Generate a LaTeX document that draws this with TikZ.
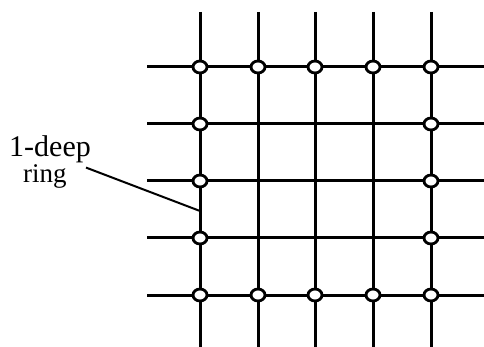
\documentclass[tikz,border=0pt]{standalone}
\usepackage{fontspec}
\setmainfont{Liberation Serif}
\usetikzlibrary{positioning,shapes.geometric,calc}

\begin{document}
\begin{tikzpicture}[
    x=1pt, y=-1pt,
    wire/.style={line width=3pt},
    ringnode/.style={ellipse, draw, fill=white, line width=2.8pt,
                minimum width=14pt, minimum height=12pt, inner sep=0pt},
    lbl/.style={inner sep=0pt, anchor=base west},
    lead/.style={line width=2pt}]
    \useasboundingbox (0,0) rectangle (484,347);
    % grid wires
    \foreach \x [count=\i] in {200,258,315,373,431} {
        \coordinate (t\i) at (\x,12); \coordinate (b\i) at (\x,347);
        \draw[wire] (t\i) -- (b\i);
    }
    \foreach \y [count=\j] in {67,124,181,238,295} {
        \coordinate (l\j) at (147,\y); \coordinate (r\j) at (484,\y);
        \draw[wire] (l\j) -- (r\j);
    }
    % 1-deep ring of nodes
    \foreach \i in {1,...,5} {
        \node[ringnode] (n\i1) at (t\i |- l1) {};
        \node[ringnode] (n\i5) at (t\i |- l5) {};
    }
    \foreach \j in {2,3,4} {
        \node[ringnode] (n1\j) at (t1 |- l\j) {};
        \node[ringnode] (n5\j) at (t5 |- l\j) {};
    }
    % label
    \node[lbl, font=\fontsize{30}{32}\selectfont] (deep) at (9,157) {1-deep};
    \node[lbl, font=\fontsize{27}{29}\selectfont] (ringtxt) at (23,183) {ring};
    \coordinate (tip) at (200,211);
    \draw[lead] ($(deep.south east)+(-5,4)$) -- (tip);
\end{tikzpicture}
\end{document}
